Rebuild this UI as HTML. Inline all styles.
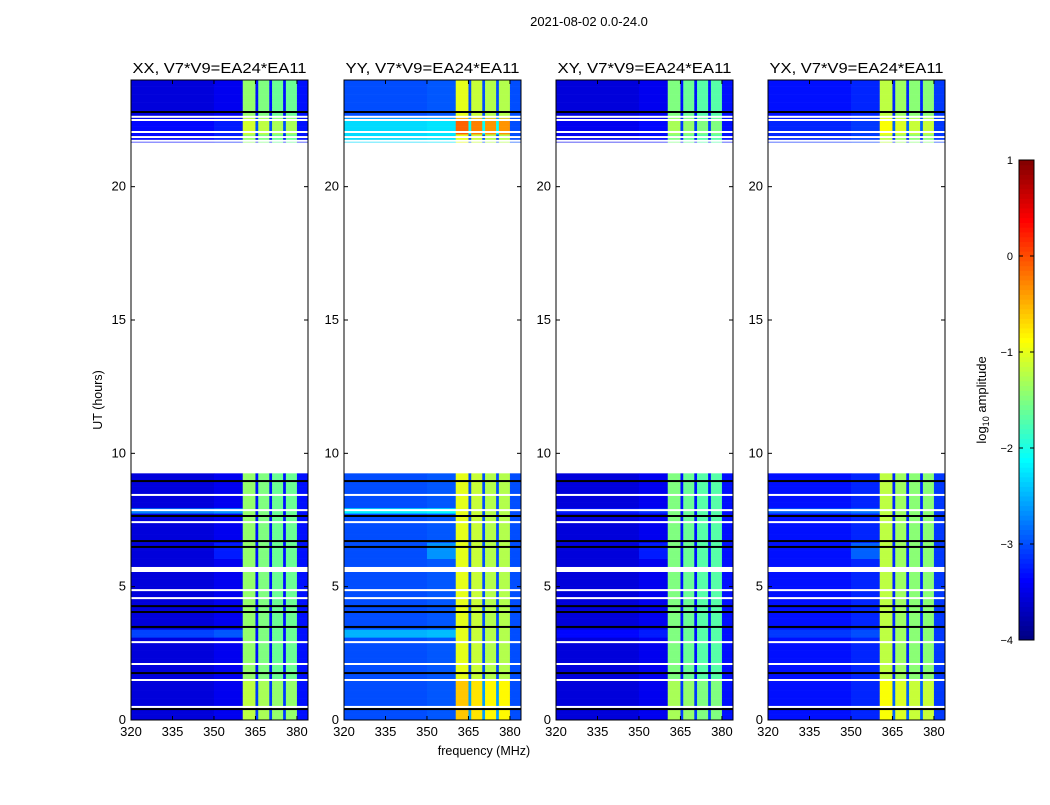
<!DOCTYPE html>
<html><head><meta charset="utf-8"><style>
body{margin:0;background:#fff;font-family:"Liberation Sans","DejaVu Sans",sans-serif;}
svg text{font-family:"Liberation Sans","DejaVu Sans",sans-serif;}
</style></head><body>
<svg id="chart" width="1050" height="800" xmlns="http://www.w3.org/2000/svg">
<rect width="1050" height="800" fill="#fff"/>
<text x="589" y="26" font-size="13" text-anchor="middle">2021-08-02 0.0-24.0</text>
<text x="484" y="755" font-size="12.5" text-anchor="middle">frequency (MHz)</text>
<text transform="translate(102,400) rotate(-90)" font-size="12.5" text-anchor="middle">UT (hours)</text>
<g id="panels"></g>
<g id="cbar"></g>
</svg>
<script>
// ---- data ----
const panelTitles = ["XX, V7*V9=EA24*EA11","YY, V7*V9=EA24*EA11","XY, V7*V9=EA24*EA11","YX, V7*V9=EA24*EA11"];
const xTicks = [320,335,350,365,380];
const yTicks = [0,5,10,15,20];
const blockStarts = [0.0, 5.75, 21.67];
const blockEnds = [5.55, 9.25, 24.0];
const rowStep = 0.1;
// spectral segments per panel (MHz start, end, log10 amplitude)
const specStarts = [320,350,360.4,365,366,370,371,375,376,380];
const specEnds   = [350,360.4,365,366,370,371,375,376,380,384];
const specXX = [-3.55,-3.45,-1.4,-3.3,-1.5,-3.3,-1.6,-3.3,-1.6,-3.3];
const specYY = [-3.0,-2.95,-1.0,-3.0,-1.15,-3.0,-1.25,-3.0,-1.25,-3.0];
const specXY = [-3.55,-3.45,-1.5,-3.3,-1.6,-3.3,-1.7,-3.3,-1.7,-3.3];
const specYX = [-3.3,-3.2,-1.2,-3.2,-1.35,-3.2,-1.45,-3.2,-1.45,-3.1];
// time features: start h, end h, fmin, fmax, delta
const featStart = [3.1, 7.7, 21.7, 6.0, 0.0, 22.0];
const featEnd   = [3.45, 7.95, 22.6, 6.6, 1.5, 22.6];
const featFmin  = [320, 320, 320, 340, 360, 360];
const featFmax  = [360, 360, 360, 360, 380, 380];
const featDeltaXX = [0.5, 0.8, 0.2, 0.2, 0.2, 0.3];
const featDeltaYY = [0.5, 0.8, 0.7, 0.3, 0.4, 0.9];
const featDeltaXY = [0.2, 0.3, 0.1, 0.2, 0.2, 0.2];
const featDeltaYX = [0.2, 0.4, 0.1, 0.3, 0.3, 0.3];
// flagged rows (white) and dark rows (black), hours
const whiteRows = [8.44,7.87,7.42,4.87,4.57,2.92,2.1,1.5,0.49,22.62,22.5,22.05,21.86,21.72];
const blackRows = [8.96,7.65,6.71,6.49,4.27,4.05,3.49,1.76,0.41,22.8];
const cbarTicks = [-4,-3,-2,-1,0,1];

const specs=[specXX,specYY,specXY,specYX];
const featDeltas=[featDeltaXX,featDeltaYY,featDeltaXY,featDeltaYX];
const panelX=[131,344,556,768], PW=177, PT=80, PB=720;
const NS="http://www.w3.org/2000/svg";
function mk(tag,attrs,parent){const e=document.createElementNS(NS,tag);for(const k in attrs)e.setAttribute(k,attrs[k]);parent.appendChild(e);return e;}
function jet(v){let t=(v+4)/5;t=Math.max(0,Math.min(1,t));
 const f=x=>Math.max(0,Math.min(1,x));
 const r=f(1.5-Math.abs(4*t-3)),g=f(1.5-Math.abs(4*t-2)),b=f(1.5-Math.abs(4*t-1));
 return `rgb(${Math.round(r*255)},${Math.round(g*255)},${Math.round(b*255)})`;}
const yS=h=>PB-(h/24)*(PB-PT);
const panelsG=document.getElementById('panels');
panelTitles.forEach((title,p)=>{
 const x0=panelX[p]; const xS=f=>x0+(f-320)*(PW/64);
 const g=mk('g',{},panelsG);
 
 
 const spec=specs[p], fd=featDeltas[p];
 for(let b=0;b<blockStarts.length;b++){
  for(let t=blockStarts[b];t<blockEnds[b]-1e-6;t+=rowStep){
   const t1=Math.min(t+rowStep,blockEnds[b]); const tm=(t+t1)/2;
   for(let s=0;s<specStarts.length;s++){
    const fm=(specStarts[s]+specEnds[s])/2; let v=spec[s];
    for(let k=0;k<featStart.length;k++) if(tm>=featStart[k]&&tm<featEnd[k]&&fm>=featFmin[k]&&fm<featFmax[k]) v+=fd[k];
    const r=mk('rect',{x:xS(specStarts[s]),y:yS(t1),width:xS(specEnds[s])-xS(specStarts[s])+0.3,height:yS(t)-yS(t1)+0.3,fill:jet(v)},g);
    
    
   }
  }
 }
 whiteRows.forEach(h=>{const r=mk('rect',{x:x0,y:yS(h)-1,width:PW,height:2,fill:'#fff'},g);
  
  });
 blackRows.forEach(h=>{const r=mk('rect',{x:x0,y:yS(h)-1,width:PW,height:2,fill:'#000'},g);
  
  });
 const fr=mk('rect',{x:x0,y:PT,width:PW,height:PB-PT,fill:'none',stroke:'#000','stroke-width':1},g);
 
 
 const tt=mk('text',{x:x0+PW/2,y:73,'font-size':14.5,'text-anchor':'middle',textLength:174,lengthAdjust:'spacingAndGlyphs'},g);tt.textContent=title;
 
 
 xTicks.forEach(v=>{const x=xS(v);
  mk('line',{x1:x,x2:x,y1:PB,y2:PB-4,stroke:'#000'},g);mk('line',{x1:x,x2:x,y1:PT,y2:PT+4,stroke:'#000'},g);
  const l=mk('text',{x:x,y:PB+16,'font-size':13,'text-anchor':'middle'},g);l.textContent=v;
  
  });
 yTicks.forEach(v=>{const y=yS(v);
  mk('line',{x1:x0,x2:x0+4,y1:y,y2:y,stroke:'#000'},g);mk('line',{x1:x0+PW,x2:x0+PW-4,y1:y,y2:y,stroke:'#000'},g);
  const l=mk('text',{x:x0-5,y:y+4,'font-size':13,'text-anchor':'end'},g);l.textContent=v;
  
  });
});
// colorbar
const cb=document.getElementById('cbar');


const CX=1019,CW=15,CT=160,CB=640;
const cyS=v=>CB-(v+4)/5*(CB-CT);
for(let i=0;i<100;i++){const v0=-4+i*0.05,v1=v0+0.05;
 mk('rect',{x:CX,y:cyS(v1),width:CW,height:cyS(v0)-cyS(v1)+0.5,fill:jet(v0+0.025)},cb);}
mk('rect',{x:CX,y:CT,width:CW,height:CB-CT,fill:'none',stroke:'#000'},cb);
cbarTicks.forEach(v=>{const y=cyS(v);
 mk('line',{x1:CX,x2:CX+4,y1:y,y2:y,stroke:'#000'},cb);mk('line',{x1:CX+CW,x2:CX+CW-4,y1:y,y2:y,stroke:'#000'},cb);
 const l=mk('text',{x:1013,y:y+4,'font-size':11,'text-anchor':'end'},cb);l.textContent=(v<0?'\u2212':'')+Math.abs(v);
 
 });
const cl=mk('text',{transform:'translate(986,400) rotate(-90)','font-size':13,'text-anchor':'middle'},cb);
cl.innerHTML='log<tspan font-size="9" dy="3">10</tspan><tspan dy="-3"> amplitude</tspan>';


</script>
</body></html>
